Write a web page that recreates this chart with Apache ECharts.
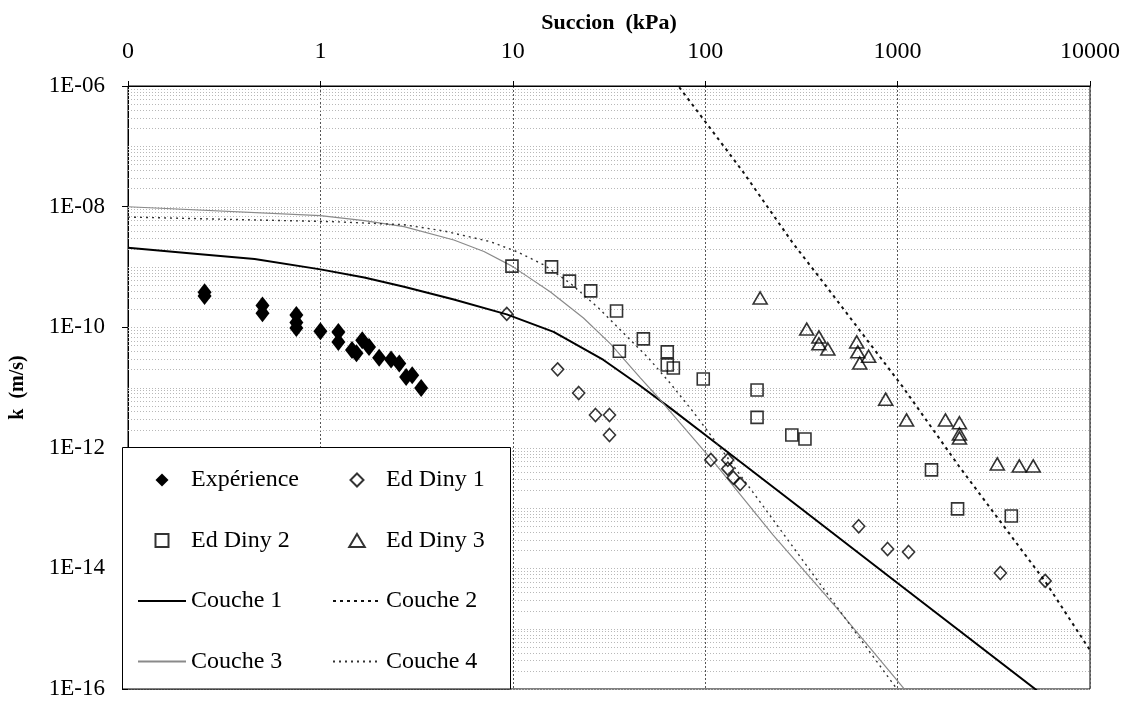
<!DOCTYPE html>
<html><head><meta charset="utf-8">
<script src="https://cdn.jsdelivr.net/npm/echarts@6/dist/echarts.min.js"></script>
<style>html,body{margin:0;padding:0;background:#fff}#c{width:1136px;height:702px}</style>
</head><body><div id="c"></div>
<script>
// ---- data (x = succion kPa, y = k m/s) ----
const experience = [[0.25,3.8e-10],[0.25,3.3e-10],[0.5,2.3e-10],[0.5,1.7e-10],[0.75,1.6e-10],[0.75,1.2e-10],[0.75,9.7e-11],[1.0,8.6e-11],[1.24,8.3e-11],[1.24,5.7e-11],[1.46,4.2e-11],[1.54,3.7e-11],[1.65,6.1e-11],[1.79,4.7e-11],[2.02,3.1e-11],[2.33,2.9e-11],[2.57,2.5e-11],[2.79,1.5e-11],[3.0,1.6e-11],[3.34,9.8e-12]];
const edDiny1 = [[9.3,1.66e-10],[17.1,2.0e-11],[22,8.1e-12],[26.9,3.5e-12],[31.8,3.5e-12],[31.8,1.63e-12],[107,6.3e-13],[131,6.3e-13],[131,4.5e-13],[140,3.2e-13],[152,2.5e-13],[628,5.0e-14],[887,2.1e-14],[1140,1.87e-14],[3420,8.4e-15],[5850,6.2e-15]];
const edDiny2 = [[9.9,1.03e-9],[15.9,1.0e-9],[19.7,5.8e-10],[25.4,4.0e-10],[34.6,1.86e-10],[47.7,6.4e-11],[35.8,4.0e-11],[63.5,3.9e-11],[63.5,2.36e-11],[68.3,2.1e-11],[97.7,1.38e-11],[186,9.1e-12],[186,3.2e-12],[282,1.63e-12],[330,1.4e-12],[1500,4.3e-13],[2050,9.7e-14],[3900,7.4e-14]];
const edDiny3 = [[193,3.05e-10],[337,9.3e-11],[390,6.9e-11],[390,5.3e-11],[434,4.35e-11],[613,5.7e-11],[621,3.9e-11],[636,2.55e-11],[707,3.3e-11],[867,6.4e-12],[1113,2.9e-12],[1773,2.9e-12],[2096,2.6e-12],[2096,1.7e-12],[2096,1.46e-12],[3297,5.4e-13],[4290,5.0e-13],[5070,5.0e-13]];
const couche1 = [[0.1,2.08e-9],[0.23,1.64e-9],[0.455,1.35e-9],[1,9.1e-10],[1.69,6.67e-10],[2.72,4.7e-10],[4.94,2.88e-10],[9.3,1.63e-10],[16.3,8.36e-11],[29.6,2.86e-11],[45.0,1.12e-11],[65.9,4.55e-12],[101,1.6e-12],[177,4.05e-13],[322,9.3e-14],[1062,4.9e-15],[5860,7.4e-17]];
const couche2 = [[69.7,1.18e-6],[101.6,2.4e-7],[157,3.8e-8],[286,2.46e-9],[408,5.7e-10],[1062,1.03e-11],[2090,4.9e-13],[5862,6.0e-15],[10000,4.4e-16]];
const couche3 = [[0.1,9.95e-9],[1,7.06e-9],[1.69,5.87e-9],[2.72,4.65e-9],[4.94,2.79e-9],[7.08,1.8e-9],[9.9,1.03e-9],[15.7,3.84e-10],[23.3,1.42e-10],[32.2,5.3e-11],[46.0,1.44e-11],[58.5,6.2e-12],[114,5.2e-13],[225,3.6e-14],[477,2.3e-15],[1127,8.6e-17]];
const couche4 = [[0.1,6.7e-9],[1.22,5.6e-9],[2.72,5.0e-9],[4.39,3.94e-9],[7.65,2.62e-9],[10.5,1.79e-9],[14.5,1.08e-9],[19.9,5.35e-10],[27.9,2.08e-10],[37.6,8.0e-11],[50.7,3.08e-11],[65.9,1.17e-11],[86.7,3.93e-12],[114,1.23e-12],[205,9.7e-14],[350,9.4e-15],[519,1.69e-15],[1062,7.4e-17]];
const xTickValues = [0.1,1,10,100,1000,10000];
const xTickLabels = ['0','1','10','100','1000','10000'];
const yTickValues = [1e-16,1e-14,1e-12,1e-10,1e-8,1e-6];
const yTickLabels = ['1E-16','1E-14','1E-12','1E-10','1E-08','1E-06'];
const gridMultipliers = [1,2,3,4,5,6,7,8,9];

// ECharts' log scale rounds tick values to 10 decimals, so k is handed to the axis in units of 1e-16 m/s
const Y_UNIT = 1e16, X_MIN = 0.1, X_MAX = 10000, Y_MIN = 1e-16, Y_MAX = 1e-6;
const sc = arr => arr.map(p => [p[0], p[1] * Y_UNIT]);
const nearest = (vals, v) => { let b = 0; vals.forEach((t, i) => { if (Math.abs(Math.log10(t) - Math.log10(v)) < Math.abs(Math.log10(vals[b]) - Math.log10(v))) b = i; }); return b; };

const FONT = "'Liberation Serif','Times New Roman',serif";
const gridVals = [];
for (let e = -16; e < -6; e++) for (const m of gridMultipliers) gridVals.push([X_MIN, m * Math.pow(10, e) * Y_UNIT]);
const yTicksScaled = yTickValues.map(v => v * Y_UNIT);

const hollow = {color:'rgba(0,0,0,0)', borderColor:'#000', borderWidth:1.6};
const noSym = {opacity:0};
const chart = echarts.init(document.getElementById('c'));
chart.setOption({
  animation:false,
  backgroundColor:'#fff',
  grid:{left:123, right:46, top:86, bottom:13, show:true, borderColor:'#000', borderWidth:1, backgroundColor:'transparent'},
  xAxis:{type:'log', logBase:10, min:X_MIN, max:X_MAX, position:'top', splitNumber:5,
    name:'Succion  (kPa)', nameLocation:'middle', nameGap:52,
    nameTextStyle:{fontFamily:FONT, fontWeight:'bold', fontSize:22, color:'#000'},
    axisLine:{lineStyle:{color:'#000', width:1}},
    axisTick:{length:5, lineStyle:{color:'#000'}},
    axisLabel:{fontFamily:FONT, fontSize:24, color:'#000', margin:22,
      formatter:v=>xTickLabels[nearest(xTickValues, v)]},
    splitLine:{show:true, lineStyle:{type:[2,2], color:'#555', width:1}}},
  yAxis:{type:'log', logBase:10, min:Y_MIN*Y_UNIT, max:Y_MAX*Y_UNIT,
    name:'k  (m/s)', nameLocation:'middle', nameGap:100, nameRotate:90,
    nameTextStyle:{fontFamily:FONT, fontWeight:'bold', fontSize:20, color:'#000'},
    axisLine:{show:true, lineStyle:{color:'#000', width:1}},
    axisTick:{show:true, length:6, lineStyle:{color:'#000'}, customValues:yTicksScaled},
    axisLabel:{fontFamily:FONT, fontSize:23, color:'#000', margin:23, customValues:yTicksScaled,
      formatter:v=>yTickLabels[nearest(yTicksScaled, v)]},
    splitLine:{show:false}},
  legend:[
    {left:137, top:468, orient:'vertical', padding:0, itemWidth:48, itemHeight:13, itemGap:36.5,
     data:[{name:'Expérience', icon:'path://M5,0L10,5L5,10L0,5Z'},
           {name:'Ed Diny 2', icon:'path://M0,0L10,0L10,10L0,10Z'},
           {name:'Couche 1', itemStyle:noSym},{name:'Couche 3', itemStyle:noSym}],
     textStyle:{fontFamily:FONT, fontSize:24, lineHeight:24, color:'#000'}, z:10},
    {left:332, top:468, orient:'vertical', padding:0, itemWidth:48, itemHeight:13, itemGap:36.5,
     data:[{name:'Ed Diny 1', icon:'path://M5,0L10,5L5,10L0,5Z'},
           {name:'Ed Diny 3', icon:'path://M6,0L12,10L0,10Z'},
           {name:'Couche 2', itemStyle:noSym},{name:'Couche 4', itemStyle:noSym}],
     textStyle:{fontFamily:FONT, fontSize:24, lineHeight:24, color:'#000'}, z:10}
  ],
  graphic:{elements:[{type:'rect', z:3, silent:true,
    shape:{x:122.5, y:447.5, width:388, height:241.5},
    style:{fill:'#fff', stroke:'#000', lineWidth:1}}]},
  series:[
    {name:'grid', type:'custom', data:gridVals, silent:true, z:1, encode:{x:0, y:1},
     renderItem:(params, api)=>{
       const a = api.coord([X_MIN, api.value(1)]), b = api.coord([X_MAX, api.value(1)]);
       const y = Math.round(a[1]) + 0.5;
       return {type:'line', shape:{x1:a[0], y1:y, x2:b[0], y2:y},
               style:{stroke:'#b8b8b8', lineWidth:1, lineDash:[1,2]}};
     }},
    {name:'Couche 1', type:'line', data:sc(couche1), symbol:'none',
     lineStyle:{color:'#000', width:2}, itemStyle:{color:'#000'}},
    {name:'Couche 2', type:'line', data:sc(couche2), symbol:'none',
     lineStyle:{color:'#111', width:2, type:[3,4]}, itemStyle:{color:'#111'}},
    {name:'Couche 3', type:'line', data:sc(couche3), symbol:'none',
     lineStyle:{color:'#8a8a8a', width:1.2}, itemStyle:{color:'#8a8a8a'}},
    {name:'Couche 4', type:'line', data:sc(couche4), symbol:'none',
     lineStyle:{color:'#333', width:1.4, type:[2,4]}, itemStyle:{color:'#333'}},
    {name:'Expérience', type:'scatter', data:sc(experience), symbol:'diamond', symbolSize:[14,18], z:5,
     itemStyle:{color:'#000', opacity:1}},
    {name:'Ed Diny 1', type:'scatter', data:sc(edDiny1), symbol:'diamond', symbolSize:[12,13], z:5, itemStyle:hollow},
    {name:'Ed Diny 2', type:'scatter', data:sc(edDiny2), symbol:'rect', symbolSize:12, z:5, itemStyle:hollow},
    {name:'Ed Diny 3', type:'scatter', data:sc(edDiny3), symbol:'triangle', symbolSize:[14,12], z:5, itemStyle:hollow}
  ]
});
</script></body></html>
